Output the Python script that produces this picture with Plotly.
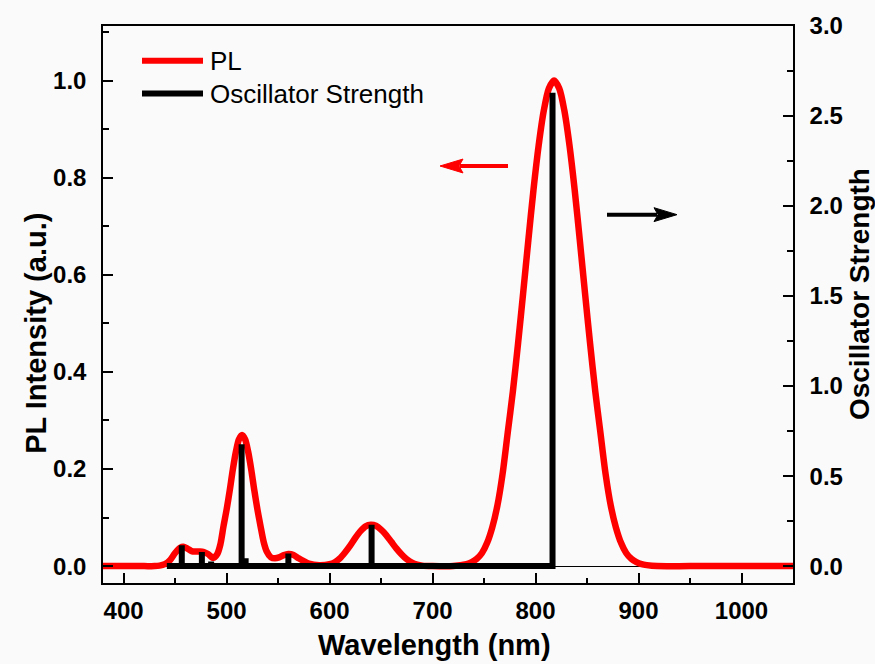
import plotly.graph_objects as go

# ---------------- data ----------------
pl_wl = [380, 400, 420, 430, 435, 440, 445, 450, 455, 458, 462, 466, 470, 474, 478,
         482, 487, 491, 494, 497, 500, 503, 506, 509, 512, 515, 518, 521, 524, 527,
         530, 533, 536, 539, 543, 547, 551, 555, 560, 565, 570, 575, 580, 590, 600,
         605, 610, 615, 620, 625, 630, 635, 640, 645, 650, 655, 660, 665, 670, 675,
         680, 685, 690, 700, 720,
         733, 738, 743, 748, 753, 758, 763, 768, 773, 778, 783, 788, 793, 798, 803,
         808, 813, 818, 823, 828, 833, 838, 843, 848, 853, 858, 863, 868, 873, 878,
         883, 888, 893, 898, 903, 908, 918, 950, 1000, 1050]
pl_int = [0.0, 0.0, 0.0, 0.0, 0.001, 0.004, 0.012, 0.027, 0.038, 0.040, 0.036, 0.031,
          0.030, 0.030, 0.029, 0.025, 0.017, 0.025, 0.045, 0.082, 0.116, 0.155, 0.198,
          0.235, 0.261, 0.270, 0.261, 0.235, 0.198, 0.155, 0.116, 0.082, 0.050, 0.030,
          0.018, 0.016, 0.018, 0.022, 0.025, 0.023, 0.016, 0.010, 0.005, 0.002, 0.004,
          0.008, 0.016, 0.028, 0.042, 0.058, 0.072, 0.082, 0.085, 0.083, 0.075, 0.064,
          0.050, 0.036, 0.024, 0.014, 0.007, 0.003, 0.001, 0.0, 0.0,
          0.004, 0.008, 0.015, 0.027, 0.048, 0.080, 0.125, 0.190, 0.275, 0.360, 0.458,
          0.563, 0.671, 0.775, 0.866, 0.938, 0.984, 1.000, 0.984, 0.938, 0.866, 0.775,
          0.671, 0.563, 0.458, 0.360, 0.275, 0.190, 0.125, 0.080, 0.048, 0.027, 0.015,
          0.008, 0.004, 0.002, 0.0, 0.0, 0.0, 0.0]

stick_start = 442
stick_wl = [456.5, 476.0, 485.0, 514.6, 518.5, 560.0, 640.8, 816.5]
stick_f = [0.116, 0.079, 0.025, 0.677, 0.044, 0.070, 0.230, 2.63]

x_ticks = [400, 500, 600, 700, 800, 900, 1000]
y_ticks = [0.0, 0.2, 0.4, 0.6, 0.8, 1.0]
y2_ticks = [0.0, 0.5, 1.0, 1.5, 2.0, 2.5, 3.0]

# ---------------- layout geometry ----------------
FIG_W, FIG_H = 875, 664
L, R, T, B = 103, 82, 22, 81
PW, PH = FIG_W - L - R, FIG_H - T - B
X0, X1 = 380, 1050
Y0, Y1 = -0.0348, 1.1125
Y20, Y21 = -0.09375, 3.0

FONT = "Liberation Sans, Arial, sans-serif"
BG = "#fafafa"


def px_x(px):
    return X0 + (px - L) / PW * (X1 - X0)


def px_y(py):
    return Y0 + (FIG_H - B - py) / PH * (Y1 - Y0)


def paper_x(px):
    return (px - L) / PW


def paper_y(py):
    return (FIG_H - B - py) / PH


# stick path built from the data
sx, sy = [stick_start], [0.0]
for w, f in zip(stick_wl, stick_f):
    sx += [w, w, w]
    sy += [0.0, f, 0.0]
sx, sy = sx[:-1], sy[:-1]

fig = go.Figure()
fig.add_trace(go.Scatter(x=pl_wl, y=pl_int, mode="lines", name="PL",
                         line=dict(color="#ff0000", width=6.5, shape="spline",
                                   smoothing=0.8),
                         yaxis="y", showlegend=False))
fig.add_trace(go.Scatter(x=sx, y=sy, mode="lines", name="Oscillator Strength",
                         line=dict(color="#000000", width=6), yaxis="y2",
                         showlegend=False))

shapes = []
annotations = []

# manual legend
for py, col, txt in [(57, "#ff0000", "PL"), (90, "#000000", "Oscillator Strength")]:
    shapes.append(dict(type="line", xref="paper", yref="paper",
                       x0=paper_x(142), x1=paper_x(203), y0=paper_y(py), y1=paper_y(py),
                       line=dict(color=col, width=6)))
    annotations.append(dict(xref="paper", yref="paper", x=paper_x(208), y=paper_y(py),
                            text=txt, showarrow=False, xanchor="left", yanchor="middle",
                            font=dict(family=FONT, size=26, color="#000000")))


# arrows (line + triangular head)
def arrow(tail_px, tip_px, py, col):
    d = 1 if tip_px > tail_px else -1
    head_len, head_half = 23, 7
    base = tip_px - d * head_len
    shapes.append(dict(type="line", xref="x", yref="y",
                       x0=px_x(tail_px), x1=px_x(base + d * 3), y0=px_y(py), y1=px_y(py),
                       line=dict(color=col, width=4)))
    notch = base + d * 4
    path = (f"M{px_x(tip_px)},{px_y(py)} L{px_x(base)},{px_y(py - head_half)} "
            f"L{px_x(notch)},{px_y(py)} L{px_x(base)},{px_y(py + head_half)} Z")
    shapes.append(dict(type="path", xref="x", yref="y", path=path,
                       fillcolor=col, line=dict(color=col, width=1)))


arrow(508, 440, 163, "#ff0000")
arrow(607, 677, 212, "#000000")

# axis titles
annotations.append(dict(xref="paper", yref="paper", x=paper_x(434), y=paper_y(645),
                        text="Wavelength (nm)", showarrow=False,
                        xanchor="center", yanchor="middle",
                        font=dict(family=FONT, size=29, color="#000000", weight="bold")))
annotations.append(dict(xref="paper", yref="paper", x=paper_x(36), y=paper_y(332),
                        text="PL Intensity (a.u.)", showarrow=False, textangle=-90,
                        xanchor="center", yanchor="middle",
                        font=dict(family=FONT, size=29, color="#000000", weight="bold")))
annotations.append(dict(xref="paper", yref="paper", x=paper_x(859), y=paper_y(292),
                        text="Oscillator Strength", showarrow=False, textangle=-90,
                        xanchor="center", yanchor="middle",
                        font=dict(family=FONT, size=28, color="#000000", weight="bold")))

tickfont = dict(family=FONT, size=24, color="#000000", weight="bold")

fig.update_layout(
    width=FIG_W, height=FIG_H,
    margin=dict(l=L, r=R, t=T, b=B, pad=0),
    paper_bgcolor=BG, plot_bgcolor=BG,
    shapes=shapes, annotations=annotations,
    xaxis=dict(range=[X0, X1], tickvals=x_ticks, ticks="inside", ticklen=10,
               tickwidth=1.5, tickcolor="#000", showline=True, linecolor="#000",
               linewidth=1.5, mirror=True, showgrid=False, zeroline=False,
               tickfont=tickfont, ticklabelstandoff=5,
               minor=dict(tickvals=[450, 550, 650, 750, 850, 950, 1050], ticks="inside",
                          ticklen=5, tickwidth=1.5, tickcolor="#000", showgrid=False)),
    yaxis=dict(range=[Y0, Y1], tickvals=y_ticks, tickformat=".1f", ticks="inside",
               ticklen=10, tickwidth=1.5, tickcolor="#000", showline=True,
               linecolor="#000", linewidth=1.5, mirror=True, showgrid=False,
               zeroline=True, zerolinecolor="#000", zerolinewidth=1.2,
               tickfont=tickfont, ticklabelstandoff=10,
               minor=dict(tickvals=[0.1, 0.3, 0.5, 0.7, 0.9, 1.1], ticks="inside",
                          ticklen=6, tickwidth=1.5, tickcolor="#000", showgrid=False)),
    yaxis2=dict(range=[Y20, Y21 + 0.0001], tickvals=y2_ticks, tickformat=".1f",
                overlaying="y", side="right", ticks="inside", ticklen=10,
                tickwidth=1.5, tickcolor="#000", showline=True, linecolor="#000",
                linewidth=1.5, showgrid=False, zeroline=False, tickfont=tickfont,
                ticklabelstandoff=10,
                minor=dict(tickvals=[0.25, 0.75, 1.25, 1.75, 2.25, 2.75], ticks="inside",
                           ticklen=6, tickwidth=1.5, tickcolor="#000", showgrid=False)),
)

fig.write_html("out.html")
